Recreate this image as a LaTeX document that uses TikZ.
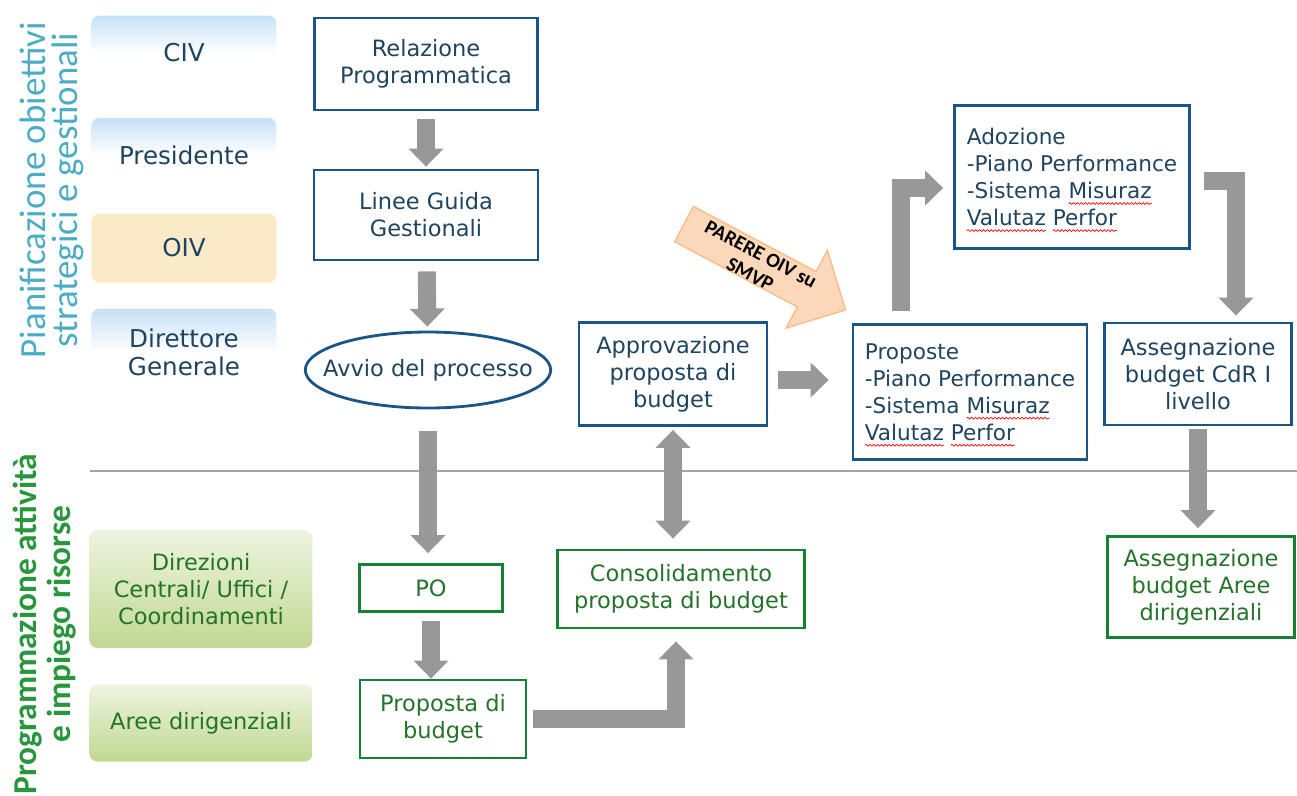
\documentclass[tikz,border=0pt]{standalone}
\usepackage{fontspec}
\setmainfont{DejaVu Sans}
\newfontfamily\lblfont{Carlito}
\usetikzlibrary{arrows.meta,shapes.geometric,decorations.pathmorphing}

\definecolor{boxblue}{RGB}{25,85,135}
\definecolor{txtblue}{RGB}{30,68,95}
\definecolor{boxgreen}{RGB}{20,130,50}
\definecolor{txtgreen}{RGB}{35,115,40}
\definecolor{arrgray}{RGB}{152,152,152}
\definecolor{lblblue}{RGB}{75,172,198}
\definecolor{lblgreen}{RGB}{40,150,60}
\definecolor{bandblue}{RGB}{198,224,245}
\definecolor{oivfill}{RGB}{251,234,200}
\definecolor{gtop}{RGB}{238,244,224}
\definecolor{gbot}{RGB}{192,216,145}
\definecolor{peach}{RGB}{252,216,186}
\definecolor{peachdraw}{RGB}{247,190,140}

\newsavebox{\wavybox}
\newlength{\wavylen}
\newcommand{\wavy}[1]{\sbox{\wavybox}{#1}\setlength{\wavylen}{\wd\wavybox}\rlap{\tikz[overlay,baseline=0pt]\draw[wavyline] (0pt,-2.8pt) -- (\wavylen,-2.8pt);}\usebox{\wavybox}}

\tikzset{
  txt/.style={font=\fontsize{12.8}{15.4}\selectfont, align=center, inner sep=2pt},
  bluebox/.style={txt, draw=boxblue, line width=1.6pt, text=txtblue},
  listbox/.style={bluebox, align=left, font=\fontsize{12.3}{15.4}\selectfont},
  greenbox/.style={txt, draw=boxgreen, line width=1.6pt, text=txtgreen},
  bluelbl/.style={txt, font=\fontsize{14}{16}\selectfont, rounded corners=0.16cm, top color=bandblue, bottom color=white, middle color=white, text=txtblue, minimum width=3.7cm},
  oivlbl/.style={txt, font=\fontsize{14}{16}\selectfont, rounded corners=0.16cm, fill=oivfill, text=txtblue, minimum width=3.7cm},
  greenlbl/.style={txt, rounded corners=0.16cm, top color=gtop, bottom color=gbot, text=txtgreen, minimum width=4.46cm},
  garrow/.style={draw=arrgray, line width=0.36cm, -{Triangle[width=0.68cm,length=0.36cm]}},
  gdouble/.style={draw=arrgray, line width=0.36cm, {Triangle[width=0.68cm,length=0.36cm]}-{Triangle[width=0.68cm,length=0.36cm]}},
  parere/.style={fill=peach, draw=peachdraw, line width=0.8pt},
  sepline/.style={draw=gray!70, line width=0.6pt},
  wavyline/.style={draw=red, line width=0.4pt, decorate, decoration={snake, amplitude=0.5pt, segment length=2.2pt}}
}

\begin{document}
\begin{tikzpicture}[x=0.02cm, y=-0.02cm]
		%%%%% START %%%%%
		\useasboundingbox (0,0) rectangle (1297,795);

		\node[rotate=90, align=center, text=lblblue, font=\lblfont\fontsize{21}{18}\selectfont] (plan) at (52,190) {Pianificazione obiettivi\\strategici e gestionali};
		\node[rotate=90, align=center, text=lblgreen, font=\lblfont\bfseries\fontsize{19}{19.4}\selectfont] (prog) at (45,624) {Programmazione attività\\e impiego risorse};

		\node[bluelbl, minimum height=1.5cm] (civ) at (184,53) {CIV};
		\node[bluelbl, minimum height=1.48cm] (pres) at (184,155) {Presidente};
		\node[oivlbl, minimum height=1.38cm] (oiv) at (184,248) {OIV};
		\node[bluelbl, minimum height=1.74cm] (dg) at (184,352) {Direttore\\Generale};
		\node[greenlbl, minimum height=2.36cm] (dir) at (201,589) {Direzioni\\Centrali/ Uffici /\\Coordinamenti};
		\node[greenlbl, minimum height=1.54cm] (aree) at (201,723) {Aree dirigenziali};

		\draw[sepline] (90,471) -- (1297,471);

		\node[bluebox, minimum width=4.46cm, minimum height=1.84cm] (rel) at (426,64) {Relazione\\Programmatica};
		\node[bluebox, minimum width=4.48cm, minimum height=1.8cm] (lin) at (426,215) {Linee Guida\\Gestionali};
		\node[bluebox, ellipse, inner xsep=-0.36cm, minimum height=1.52cm] (avv) at (428,370) {Avvio del processo};
		\node[bluebox, minimum width=3.76cm, minimum height=2.06cm] (appr) at (673,374) {Approvazione\\proposta di\\budget};
		\node[listbox, minimum width=4.68cm, minimum height=2.7cm] (prop) at (970,392) {Proposte\\-Piano Performance\\-Sistema \wavy{Misuraz}\\\wavy{Valutaz} \wavy{Perfor}};
		\node[listbox, minimum width=4.7cm, minimum height=2.86cm] (adoz) at (1072,177) {Adozione\\-Piano Performance\\-Sistema \wavy{Misuraz}\\\wavy{Valutaz} \wavy{Perfor}};
		\node[bluebox, minimum width=3.74cm, minimum height=2.04cm] (cdr) at (1198,374) {Assegnazione\\budget CdR I\\livello};

		\node[greenbox, minimum width=2.86cm, minimum height=0.94cm] (po) at (431,588) {PO};
		\node[greenbox, minimum width=3.32cm, minimum height=1.56cm] (pbud) at (443,719) {Proposta di\\budget};
		\node[greenbox, minimum width=4.94cm, minimum height=1.56cm] (cons) at (681,589) {Consolidamento\\proposta di budget};
		\node[greenbox, minimum width=3.74cm, minimum height=2.02cm] (areebud) at (1201,587) {Assegnazione\\budget Aree\\dirigenziali};

		\draw[garrow, shorten <=0.16cm, shorten >=0.04cm] (rel) -- (lin);
		\draw[garrow, shorten <=0.2cm, shorten >=0.08cm] (lin) -- (avv);
		\draw[garrow, shorten <=0.44cm, shorten >=0.2cm] (avv.south) -- (avv.south |- po.north);
		\draw[garrow, shorten <=0.16cm] (po.south) -- (po.south |- pbud.north);
		\draw[garrow, shorten <=0.12cm, shorten >=0.24cm] (pbud.east) -| ([xshift=-0.1cm]cons.south);
		\draw[gdouble, shorten <=0.06cm, shorten >=0.2cm] (appr.south) -- (appr.south |- cons.north);
		\draw[garrow, shorten <=0.2cm, shorten >=0.46cm] ([yshift=-0.12cm]appr.east) -- ([yshift=-0.12cm]appr.east -| prop.west);
		\draw[garrow, shorten <=0.24cm, shorten >=0.2cm] ([xshift=-1.38cm]prop.north) |- ([yshift=-0.22cm]adoz.west);
		\draw[garrow, shorten <=0.26cm, shorten >=0.12cm] ([yshift=-0.08cm]adoz.east) -| ([xshift=0.76cm]cdr.north);
		\draw[garrow, shorten <=0.06cm, shorten >=0.14cm] (cdr.south) -- (cdr.south |- areebud.north);

		\begin{scope}[shift={(684,224)}, rotate=-28]
			\draw[parere] (0,-20) -- (139,-20) -- (139,-44) -- (183,0) -- (139,44) -- (139,20) -- (0,20) -- cycle;
			\node[rotate=-28, align=center, inner sep=0pt, font=\lblfont\bfseries\fontsize{11.5}{13}\selectfont] (oivnote) at (82,2) {PARERE OIV su\\SMVP};
		\end{scope}
		%%%%% END %%%%%
\end{tikzpicture}
\end{document}
